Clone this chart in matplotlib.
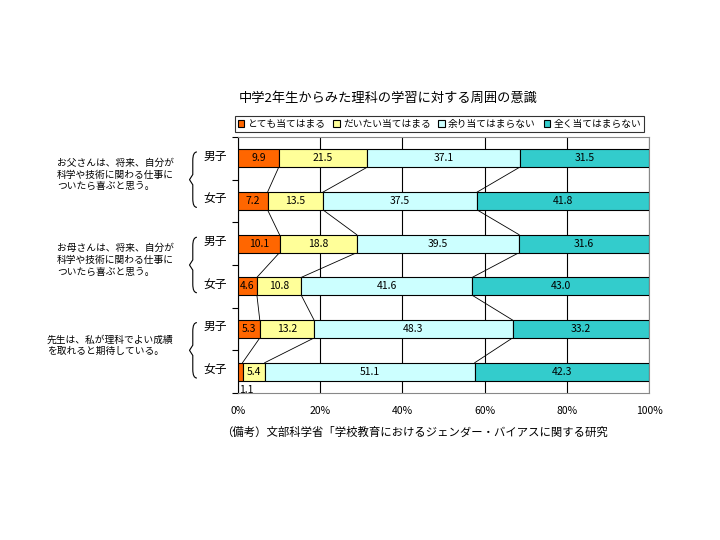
import matplotlib
matplotlib.use("Agg")
import matplotlib.pyplot as plt
from matplotlib.path import Path
from matplotlib.patches import PathPatch
import matplotlib.transforms as mtransforms
import numpy as np

plt.rcParams['font.family'] = ['Noto Sans CJK JP', 'DejaVu Sans']

title = "中学2年生からみた理科の学習に対する周囲の意識"
series_names = ["とても当てはまる", "だいたい当てはまる", "余り当てはまらない", "全く当てはまらない"]
colors = ["#FF6600", "#FFFF99", "#CCFFFF", "#33CCCC"]
rows = ["男子", "女子", "男子", "女子", "男子", "女子"]
groups = ["お父さんは、将来、自分が\n科学や技術に関わる仕事に\nついたら喜ぶと思う。",
          "お母さんは、将来、自分が\n科学や技術に関わる仕事に\nついたら喜ぶと思う。",
          "先生は、私が理科でよい成績\nを取れると期待している。"]
very = [9.9, 7.2, 10.1, 4.6, 5.3, 1.1]
mostly = [21.5, 13.5, 18.8, 10.8, 13.2, 5.4]
hardly = [37.1, 37.5, 39.5, 41.6, 48.3, 51.1]
never = [31.5, 41.8, 31.6, 43.0, 33.2, 42.3]
xticks = [0, 20, 40, 60, 80, 100]
xticklabels = ["0%", "20%", "40%", "60%", "80%", "100%"]
note = "（備考）文部科学省「学校教育におけるジェンダー・バイアスに関する研究"

data = np.array([very, mostly, hardly, never])
y = np.arange(len(rows))
h = 0.42

fig = plt.figure(figsize=(7.2, 5.4), dpi=100)
ax = fig.add_axes([238/720, 1-393/540, 411/720, 256/540])

left = np.zeros(len(rows))
for k in range(4):
    ax.barh(y, data[k], left=left, height=h, color=colors[k],
            edgecolor="black", linewidth=0.8, label=series_names[k], zorder=3)
    for i in range(len(rows)):
        v = data[k][i]
        if v < 2:
            # too small to fit: label sits under the bar
            ax.text(0.3, y[i] + 0.42, f"{v:.1f}", ha="left", va="center",
                    fontsize=7.5, zorder=4)
        else:
            ax.text(left[i] + v/2, y[i], f"{v:.1f}", ha="center", va="center",
                    fontsize=7.5, zorder=4)
    left = left + data[k]

# series lines between bars
cum = np.cumsum(data, axis=0)
for i in range(len(rows) - 1):
    for k in range(3):
        ax.plot([cum[k][i], cum[k][i+1]], [y[i] + h/2, y[i+1] - h/2],
                color="black", linewidth=0.6, zorder=2)

ax.set_xlim(0, 100)
ax.set_ylim(len(rows) - 0.5, -0.5)
ax.set_xticks(xticks)
ax.set_xticklabels(xticklabels, fontsize=7.5)
ax.tick_params(axis="x", length=0, pad=9)
ax.set_yticks(np.arange(len(rows) + 1) - 0.5)
ax.set_yticklabels([])
ax.tick_params(axis="y", length=4, direction="out", width=0.8)
ax.grid(axis="x", color="black", linewidth=0.8, zorder=1)
ax.set_axisbelow(True)
for s in ["top", "right", "bottom"]:
    ax.spines[s].set_color("#888888")
ax.spines["left"].set_color("black")

# row labels, braces and group text
trans = mtransforms.blended_transform_factory(ax.transAxes, ax.transData)
for i, r in enumerate(rows):
    ax.text(-0.055, y[i] - 0.05, r, transform=trans, ha="center", va="center",
            fontsize=8.5)
for g in range(3):
    top = 2*g - 0.15
    bot = 2*g + 1 + 0.15
    mid = (top + bot) / 2
    xr, xl = -0.100, -0.118
    xs = xl + 0.008
    verts = [(xr, top), (xs, top), (xs, top + 0.2),
             (xs, mid - 0.12), (xl, mid), (xs, mid + 0.12),
             (xs, bot - 0.2), (xs, bot), (xr, bot)]
    codes = [Path.MOVETO, Path.CURVE3, Path.CURVE3, Path.LINETO,
             Path.LINETO, Path.LINETO, Path.LINETO, Path.CURVE3, Path.CURVE3]
    p = PathPatch(Path(verts, codes), transform=trans, fill=False,
                  edgecolor="black", linewidth=0.8, clip_on=False)
    ax.add_patch(p)
    gx = -0.44 if g < 2 else -0.465
    ax.text(gx, mid - 0.12, groups[g], transform=trans, ha="left",
            va="center", fontsize=7, linespacing=1.2)

leg = ax.legend(loc="center", bbox_to_anchor=(0.49, 1.05), ncol=4,
                fontsize=7, frameon=True, fancybox=False, edgecolor="black",
                handlelength=0.7, handleheight=0.7, handletextpad=0.3,
                columnspacing=0.8, borderpad=0.3, borderaxespad=0)
leg.get_frame().set_linewidth(0.8)

fig.text(239/720, 1-98/540, title, ha="left", va="center", fontsize=9.5)
fig.text(221/720, 1-432/540, note, ha="left", va="center", fontsize=8.2)

fig.savefig("out.png", dpi=100)
